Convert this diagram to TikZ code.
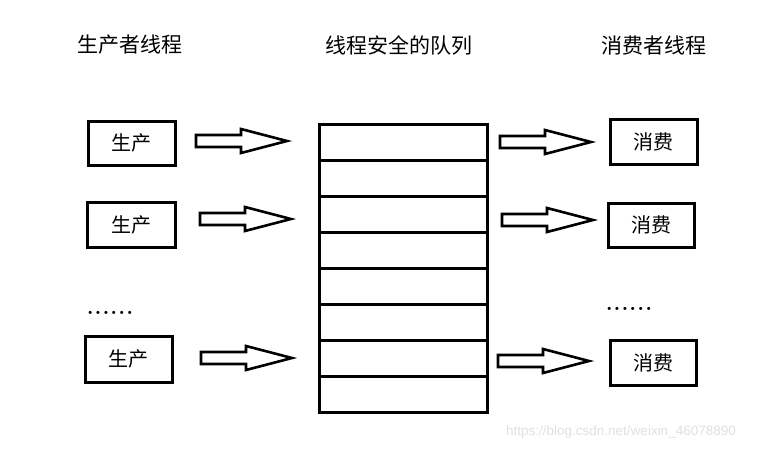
\documentclass[tikz,border=0pt]{standalone}
\usepackage{fontspec}
\newfontfamily\cjkfont{Noto Sans CJK SC}
\newfontfamily\wmfont{Liberation Sans}
\begin{document}
\begin{tikzpicture}[x=1pt,y=-1pt,
  box/.style={draw, line width=3pt, inner sep=0pt, font=\cjkfont\fontsize{20}{24}\selectfont},
  title/.style={inner sep=0pt, font=\cjkfont\fontsize{21}{25}\selectfont},
  dots/.style={inner sep=0pt, font=\bfseries\fontsize{22}{26}\selectfont},
  blockarrow/.pic={\draw[line width=2.6pt, line join=miter, miter limit=4]
     (0,-6) -- (45,-6) -- (45,-12) -- (91,0) -- (45,12) -- (45,6) -- (0,6) -- cycle;}]
\useasboundingbox (0,0) rectangle (766,450);

% titles
\node[title] (t1) at (130,45) {生产者线程};
\node[title] (t2) at (398.5,45) {线程安全的队列};
\node[title] (t3) at (654,45) {消费者线程};

% producers
\node[box, minimum width=87pt, minimum height=44pt] (p1) at (131.5,143) {生产};
\node[box, minimum width=88pt, minimum height=45pt] (p2) at (131,224.5) {生产};
\node[box, minimum width=87pt, minimum height=46pt] (p3) at (128.5,359) {生产};
\node[dots] (d1) at (110,313) {.\kern1pt.\kern1pt.\kern1pt.\kern1pt.\kern1pt.};

% consumers
\node[box, minimum width=87pt, minimum height=45pt] (c1) at (653.5,141.5) {消费};
\node[box, minimum width=86pt, minimum height=44pt] (c2) at (651,225) {消费};
\node[box, minimum width=86pt, minimum height=45pt] (c3) at (653,362.5) {消费};
\node[dots] (d2) at (629,309) {.\kern1pt.\kern1pt.\kern1pt.\kern1pt.\kern1pt.};

% queue
\node[draw, line width=3pt, minimum width=168pt, minimum height=288pt, inner sep=0pt] (q) at (403,268) {};
\foreach \yy in {160,196,232,268,304,340,376}
  \draw[line width=3pt] (q.west |- 0,\yy) -- (q.east |- 0,\yy);

% arrows
\pic at (196,141) {blockarrow};
\pic at (200,219) {blockarrow};
\pic at (201,358) {blockarrow};
\pic at (500,142) {blockarrow};
\pic at (502,220) {blockarrow};
\pic at (498,361) {blockarrow};

% watermark
\node[inner sep=0pt, text=black!12, font=\wmfont\fontsize{13.5}{16}\selectfont] (wm) at (621,432) {https://blog.csdn.net/weixin\_46078890};
\end{tikzpicture}
\end{document}
